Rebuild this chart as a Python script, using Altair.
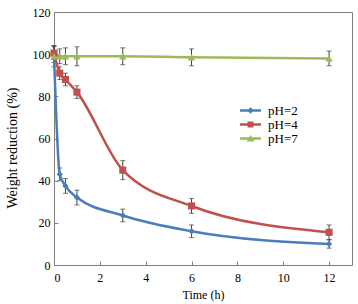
import altair as alt
import pandas as pd

time_h = [0, 0.25, 0.5, 1, 3, 6, 12]
series_names = ["pH=2", "pH=4", "pH=7"]
ph2 = [100, 43, 37.5, 32, 23.5, 16, 10]
ph2_err = [4, 3, 3.5, 3.5, 3, 3, 2]
ph4 = [100.5, 91, 88, 82, 45, 28, 15.5]
ph4_err = [3, 3, 3, 3, 4.5, 3.5, 3.5]
ph7 = [99, 99, 99, 99, 99, 98.5, 98]
ph7_err = [5, 3.5, 4, 4.5, 4, 4, 3.5]
x_ticks = [0, 2, 4, 6, 8, 10, 12]
y_ticks = [0, 20, 40, 60, 80, 100, 120]

colors = ["#4a7ebb", "#c0504d", "#9bbb59"]
marker_shapes = ["diamond", "square", "triangle-up"]
marker_sizes = [40, 50, 55]

rows = []
for name, vals, errs in zip(series_names, [ph2, ph4, ph7], [ph2_err, ph4_err, ph7_err]):
    for t, v, e in zip(time_h, vals, errs):
        rows.append({"series": name, "time": t, "value": v, "lo": v - e, "hi": v + e})
df = pd.DataFrame(rows)

FONT = "Liberation Serif"
GRAY = "#808080"

xs = alt.Scale(domain=[0, 13], nice=False, zero=False)
ys = alt.Scale(domain=[0, 120], nice=False)
color_scale = alt.Scale(domain=series_names, range=colors)

main_x = alt.Axis(values=x_ticks, orient="bottom", ticks=False, grid=False, domainColor=GRAY,
                  labelFont=FONT, labelFontSize=12, labelColor="black", labelPadding=7,
                  title="Time (h)", titleFont=FONT, titleFontSize=12, titleFontWeight="normal",
                  titleColor="black", titlePadding=6)
main_y = alt.Axis(values=y_ticks, orient="left", ticks=False, grid=False, domainColor=GRAY,
                  labelFont=FONT, labelFontSize=12, labelColor="black", labelPadding=4,
                  title="Weight reduction (%)", titleFont=FONT, titleFontSize=14,
                  titleFontWeight="normal", titleColor="black",
                  titleAngle=270, titleBaseline="middle", titleAlign="center",
                  titleX=-42, titleY=135.5)
tick_x = alt.Axis(values=x_ticks, orient="bottom", offset=-4, tickSize=4, ticks=True, tickColor=GRAY,
                  domain=False, labels=False, grid=False, title=None)
tick_y = alt.Axis(values=y_ticks, orient="left", offset=-4, tickSize=4, ticks=True, tickColor=GRAY,
                  domain=False, labels=False, grid=False, title=None)

base = alt.Chart(df)

err_rule = base.mark_rule(color="#404040", strokeWidth=1).encode(
    x=alt.X("time:Q", scale=xs, axis=tick_x),
    y=alt.Y("lo:Q", scale=ys, axis=tick_y),
    y2="hi:Q",
)
cap_lo = base.mark_tick(color="#404040", orient="horizontal", size=5, thickness=1).encode(
    x=alt.X("time:Q", scale=xs, axis=None),
    y=alt.Y("lo:Q", scale=ys, axis=None),
)
cap_hi = base.mark_tick(color="#404040", orient="horizontal", size=5, thickness=1).encode(
    x=alt.X("time:Q", scale=xs, axis=None),
    y=alt.Y("hi:Q", scale=ys, axis=None),
)

line_layers = []
point_layers = []
for i, (name, c, shp, sz) in enumerate(zip(series_names, colors, marker_shapes, marker_sizes)):
    sub = base.transform_filter(alt.datum.series == name)
    line_layers.append(
        sub.mark_line(interpolate="monotone", strokeWidth=2.5, color=c).encode(
            x=alt.X("time:Q", scale=xs, axis=main_x if i == 0 else None),
            y=alt.Y("value:Q", scale=ys, axis=main_y if i == 0 else None),
        )
    )
    point_layers.append(
        sub.mark_point(shape=shp, filled=True, size=sz, color=c, opacity=1).encode(
            x=alt.X("time:Q", scale=xs, axis=None),
            y=alt.Y("value:Q", scale=ys, axis=None),
        )
    )

# legend-only layer: symbols are a line segment with the series' marker
bar = "M-1.75,-0.2L1.75,-0.2L1.75,0.2L-1.75,0.2Z"
legend_paths = [
    bar + "M0,-0.55L0.55,0L0,0.55L-0.55,0Z",
    bar + "M-0.5,-0.5L0.5,-0.5L0.5,0.5L-0.5,0.5Z",
    bar + "M0,-0.6L0.65,0.5L-0.65,0.5Z",
]
leg = alt.Legend(title=None, orient="none", legendX=190, legendY=92, padding=0,
                 symbolSize=144, labelOffset=11, rowPadding=-1,
                 labelFont=FONT, labelFontSize=13, labelColor="black", symbolStrokeWidth=0)
legend_layer = base.transform_filter("false").mark_point(filled=True, opacity=1).encode(
    x=alt.X("time:Q", scale=xs, axis=None),
    y=alt.Y("value:Q", scale=ys, axis=None),
    color=alt.Color("series:N", scale=color_scale, legend=leg),
    shape=alt.Shape("series:N", scale=alt.Scale(domain=series_names, range=legend_paths), legend=leg),
)

chart = alt.layer(err_rule, cap_lo, cap_hi, *line_layers, *point_layers, legend_layer).resolve_axis(
    x="independent", y="independent"
).properties(
    width=298, height=253,
    autosize=alt.AutoSizeParams(type="none"),
    padding={"left": 54, "top": 12, "right": 6, "bottom": 39},
).configure_view(stroke=GRAY, strokeWidth=1).configure_axis(labelFont=FONT, titleFont=FONT)

chart.save("out.html", embed_options={"renderer": "svg", "actions": False})
